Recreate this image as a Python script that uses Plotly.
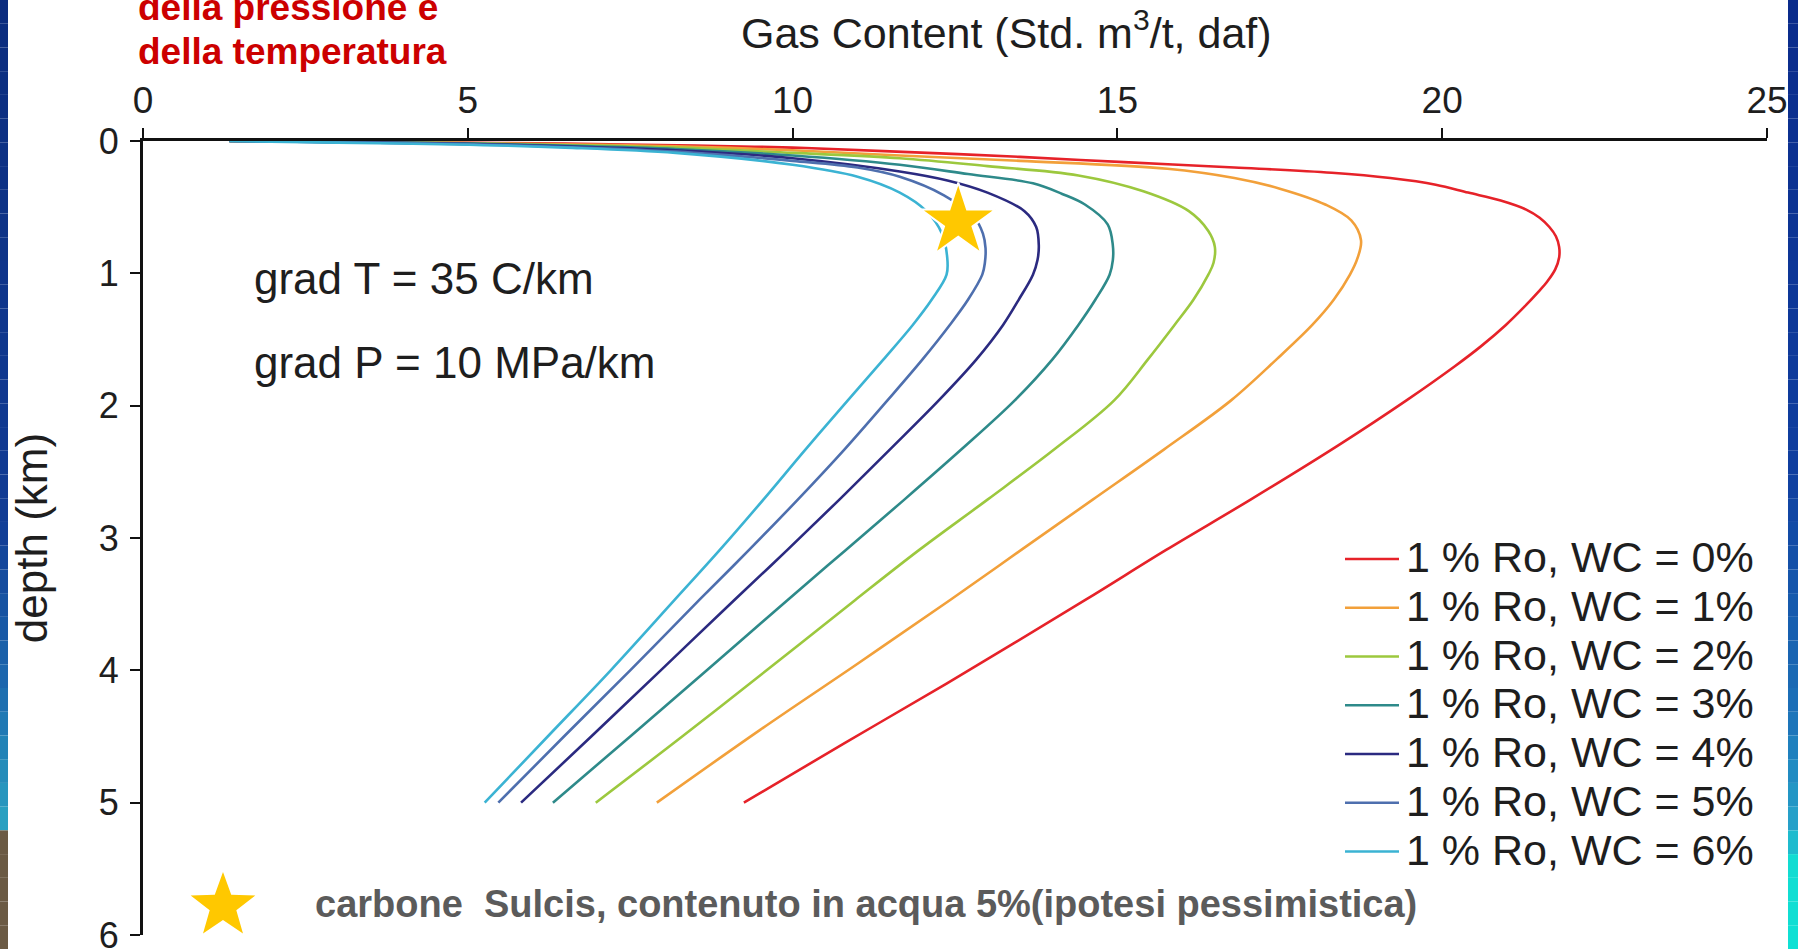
import math
import plotly.graph_objects as go

# ---------------- data ----------------
x_ticks = [0, 5, 10, 15, 20, 25]
y_ticks = [0, 1, 2, 3, 4, 5, 6]

depth_wc0 = [0, 0.005, 0.012, 0.02, 0.035, 0.05, 0.08, 0.12, 0.16, 0.20, 0.24, 0.28, 0.33, 0.39, 0.45, 0.52,
             0.58, 0.65, 0.72, 0.80, 0.88, 0.97, 1.06, 1.14, 1.25, 1.39, 1.55, 1.70, 1.96, 2.30, 2.71, 3.09,
             3.47, 4.10, 4.55, 5.0]
gas_wc0 = [1.33, 3.0, 4.8, 6.5, 8.5, 10.0, 11.6, 13.5, 15.1, 16.8, 18.3, 19.2, 19.9, 20.4, 20.9, 21.3,
           21.5, 21.65, 21.75, 21.8, 21.8, 21.74, 21.62, 21.48, 21.27, 20.98, 20.6, 20.2, 19.45, 18.4, 17.05, 15.75,
           14.5, 12.37, 10.8, 9.25]

depth_wc1 = [0, 0.006, 0.014, 0.025, 0.04, 0.07, 0.11, 0.15, 0.21, 0.28, 0.36, 0.48, 0.60, 0.75, 0.88, 1.01,
             1.20, 1.39, 1.65, 1.96, 2.33, 2.71, 3.09, 3.47, 3.95, 4.45, 5.0]
gas_wc1 = [1.33, 3.0, 4.8, 6.5, 8.2, 10.0, 11.65, 13.5, 15.77, 16.8, 17.5, 18.2, 18.6, 18.75, 18.7, 18.58,
           18.33, 18.0, 17.45, 16.75, 15.72, 14.62, 13.52, 12.42, 11.0, 9.5, 7.91]

depth_wc2 = [0, 0.007, 0.016, 0.03, 0.05, 0.09, 0.13, 0.19, 0.26, 0.38, 0.53, 0.68, 0.80, 0.92, 1.01, 1.20,
             1.39, 1.65, 1.96, 2.33, 2.71, 3.09, 3.47, 4.0, 4.5, 5.0]
gas_wc2 = [1.33, 3.0, 4.8, 6.5, 8.2, 10.0, 11.65, 13.0, 14.4, 15.4, 16.1, 16.4, 16.5, 16.48, 16.4, 16.17,
           15.88, 15.47, 14.95, 14.03, 13.0, 11.95, 10.96, 9.6, 8.3, 6.97]

depth_wc3 = [0, 0.008, 0.018, 0.035, 0.06, 0.11, 0.18, 0.25, 0.32, 0.40, 0.48, 0.63, 0.79, 0.90, 1.01, 1.20,
             1.39, 1.65, 1.96, 2.33, 2.71, 3.09, 3.47, 4.0, 4.5, 5.0]
gas_wc3 = [1.33, 3.0, 4.8, 6.5, 8.2, 10.0, 11.65, 12.7, 13.7, 14.15, 14.5, 14.85, 14.93, 14.93, 14.88, 14.66,
           14.4, 14.0, 13.42, 12.6, 11.72, 10.82, 9.92, 8.68, 7.5, 6.31]

depth_wc4 = [0, 0.009, 0.02, 0.04, 0.07, 0.13, 0.23, 0.30, 0.39, 0.53, 0.65, 0.79, 0.90, 1.01, 1.20, 1.39,
             1.65, 1.96, 2.33, 2.71, 3.09, 3.47, 4.0, 4.5, 5.0]
gas_wc4 = [1.33, 3.0, 4.8, 6.5, 8.2, 10.0, 11.65, 12.4, 13.0, 13.57, 13.75, 13.79, 13.77, 13.7, 13.48, 13.24,
           12.83, 12.25, 11.5, 10.72, 9.92, 9.1, 7.97, 6.9, 5.82]

depth_wc5 = [0, 0.01, 0.022, 0.045, 0.08, 0.15, 0.20, 0.27, 0.41, 0.58, 0.70, 0.81, 0.92, 1.01, 1.20, 1.39,
             1.65, 1.96, 2.33, 2.71, 3.09, 3.47, 4.0, 4.5, 5.0]
gas_wc5 = [1.33, 3.0, 4.8, 6.5, 8.2, 10.0, 11.0, 11.65, 12.33, 12.8, 12.93, 12.97, 12.96, 12.92, 12.7, 12.42,
           12.0, 11.46, 10.8, 10.08, 9.33, 8.56, 7.5, 6.48, 5.47]

depth_wc6 = [0, 0.012, 0.026, 0.05, 0.09, 0.18, 0.27, 0.39, 0.53, 0.70, 0.88, 1.01, 1.20, 1.39, 1.65, 1.96,
             2.33, 2.71, 3.09, 3.47, 4.0, 4.5, 5.0]
gas_wc6 = [1.33, 3.0, 4.8, 6.5, 8.2, 10.0, 11.0, 11.65, 12.06, 12.3, 12.38, 12.37, 12.14, 11.85, 11.4, 10.85,
           10.2, 9.55, 8.88, 8.18, 7.2, 6.23, 5.26]

series_names = ["1 % Ro, WC = 0%", "1 % Ro, WC = 1%", "1 % Ro, WC = 2%", "1 % Ro, WC = 3%",
                "1 % Ro, WC = 4%", "1 % Ro, WC = 5%", "1 % Ro, WC = 6%"]
series_colors = ["#E62229", "#F2A03A", "#9CC83E", "#2E8A8A", "#2B2A80", "#4E6FAE", "#3BB3D3"]
series_depths = [depth_wc0, depth_wc1, depth_wc2, depth_wc3, depth_wc4, depth_wc5, depth_wc6]
series_gas = [gas_wc0, gas_wc1, gas_wc2, gas_wc3, gas_wc4, gas_wc5, gas_wc6]

star_gas = [12.55]
star_depth = [0.61]

x_title = "Gas Content (Std. m<sup>3</sup>/t, daf)"
y_title = "depth (km)"
note_grad_t = "grad T = 35 C/km"
note_grad_p = "grad P = 10 MPa/km"
red_line1 = "della pressione e"
red_line2 = "della temperatura"
bottom_note = "carbone\u00a0 Sulcis, contenuto in acqua 5%(ipotesi pessimistica)"

# ---------------- layout geometry ----------------
W, H = 1798, 949
ML, MR, MT, MB = 143, 31, 141, 14
PW, PH = W - ML - MR, H - MT - MB


def px_x(px):
    return (px - ML) / PW


def px_y(py):
    return (H - MB - py) / PH


FONT = "Liberation Sans, Arial, Helvetica, sans-serif"
TXT = "#1e1e1e"
GOLD = "#FFC800"

fig = go.Figure()
for name, col, d, g in zip(series_names, series_colors, series_depths, series_gas):
    fig.add_trace(go.Scatter(x=g, y=d, mode="lines", name=name,
                             line=dict(color=col, width=2.6, shape="spline", smoothing=1.0),
                             showlegend=False))

fig.add_trace(go.Scatter(x=star_gas, y=star_depth, mode="markers", name="carbone Sulcis",
                         marker=dict(symbol="star", size=56, color=GOLD,
                                     line=dict(color="white", width=2)),
                         showlegend=False))

annotations = []
shapes = []

# manual legend (tight line spacing as in the original)
leg_y = [557 + i * 48.75 for i in range(len(series_names))]
for name, col, yy in zip(series_names, series_colors, leg_y):
    shapes.append(dict(type="line", xref="paper", yref="paper",
                       x0=px_x(1345), x1=px_x(1399), y0=px_y(yy + 2), y1=px_y(yy + 2),
                       line=dict(color=col, width=2.6)))
    annotations.append(dict(text=name, xref="paper", yref="paper", x=px_x(1404), y=px_y(yy),
                            xanchor="left", yanchor="middle", showarrow=False,
                            font=dict(family=FONT, size=43, color=TXT)))

# x-axis title
annotations.append(dict(text=x_title, xref="paper", yref="paper", x=px_x(1006), y=px_y(30),
                        xanchor="center", yanchor="middle", showarrow=False,
                        font=dict(family=FONT, size=43, color=TXT)))

# in-plot notes
annotations.append(dict(text=note_grad_t, xref="paper", yref="paper", x=px_x(252), y=px_y(278),
                        xanchor="left", yanchor="middle", showarrow=False,
                        font=dict(family=FONT, size=44, color=TXT)))
annotations.append(dict(text=note_grad_p, xref="paper", yref="paper", x=px_x(252), y=px_y(362),
                        xanchor="left", yanchor="middle", showarrow=False,
                        font=dict(family=FONT, size=44, color=TXT)))

# red heading (partly cut by the top edge, as in the original slide)
annotations.append(dict(text="<b>%s</b>" % red_line1, xref="paper", yref="paper", x=px_x(136), y=px_y(7),
                        xanchor="left", yanchor="middle", showarrow=False,
                        font=dict(family=FONT, size=37, color="#CC0000")))
annotations.append(dict(text="<b>%s</b>" % red_line2, xref="paper", yref="paper", x=px_x(136), y=px_y(51),
                        xanchor="left", yanchor="middle", showarrow=False,
                        font=dict(family=FONT, size=37, color="#CC0000")))

# bottom note text
annotations.append(dict(text="<b>%s</b>" % bottom_note, xref="paper", yref="paper", x=px_x(313), y=px_y(904),
                        xanchor="left", yanchor="middle", showarrow=False,
                        font=dict(family=FONT, size=38, color="#5B5B5B")))


# star key for the bottom note, drawn as a path shape (pixel geometry -> paper)
def star_path(cx, cy, r_out, r_in):
    pts = []
    for k in range(10):
        ang = -math.pi / 2 + k * math.pi / 5
        r = r_out if k % 2 == 0 else r_in
        pts.append((px_x(cx + r * math.cos(ang)), px_y(cy + r * math.sin(ang))))
    return "M " + " L ".join("%.5f,%.5f" % p for p in pts) + " Z"


shapes.append(dict(type="path", xref="paper", yref="paper", path=star_path(223, 906, 34, 14),
                   fillcolor=GOLD, line=dict(width=0), layer="above"))


# slide border strips
def lerp(c1, c2, t):
    a = [int(c1[i:i + 2], 16) for i in (1, 3, 5)]
    b = [int(c2[i:i + 2], 16) for i in (1, 3, 5)]
    return "#%02x%02x%02x" % tuple(int(round(a[k] + (b[k] - a[k]) * t)) for k in range(3))


def strip(x0, x1, stops, n=40):
    for i in range(n):
        f0, f1 = i / n, (i + 1) / n
        fm = (f0 + f1) / 2
        col = stops[-1][1]
        for (p0, c0), (p1, c1) in zip(stops[:-1], stops[1:]):
            if p0 <= fm <= p1:
                col = c0 if p1 == p0 else lerp(c0, c1, (fm - p0) / (p1 - p0))
                break
        shapes.append(dict(type="rect", xref="paper", yref="paper", layer="above",
                           x0=px_x(x0), x1=px_x(x1), y0=px_y(f1 * H), y1=px_y(f0 * H),
                           fillcolor=col, line=dict(width=0)))


left_stops = [(0, "#0B2C7D"), (0.55, "#113C95"), (0.72, "#1C68AE"), (0.87, "#2AA3C2"),
              (0.885, "#6B5A44"), (1.0, "#6B5A44")]
right_stops = [(0, "#0A2A8A"), (0.5, "#0F3FA0"), (0.75, "#1C70B8"), (0.88, "#27A8CC"),
               (0.9, "#12DCD2"), (1.0, "#10E0D4")]
strip(0, 8, left_stops)
strip(1788, W, right_stops)

fig.update_layout(
    width=W, height=H,
    margin=dict(l=ML, r=MR, t=MT, b=MB, autoexpand=False),
    paper_bgcolor="white", plot_bgcolor="white",
    showlegend=False,
    font=dict(family=FONT, color=TXT),
    xaxis=dict(range=[0, 25], side="top", tickvals=x_ticks, ticktext=[str(v) for v in x_ticks],
               ticks="outside", ticklen=10, tickwidth=2, tickcolor="#111",
               showline=True, linecolor="#111", linewidth=3, mirror=False,
               showgrid=False, zeroline=False, ticklabeloverflow="allow", automargin=False,
               tickfont=dict(family=FONT, size=37, color=TXT)),
    yaxis=dict(range=[6, 0], tickvals=y_ticks, ticktext=[str(v) for v in y_ticks],
               ticks="outside", ticklen=10, tickwidth=2, tickcolor="#111",
               showline=True, linecolor="#111", linewidth=3, mirror=False,
               showgrid=False, zeroline=False, ticklabeloverflow="allow", ticklabelstandoff=4,
               automargin=False,
               tickfont=dict(family=FONT, size=36, color=TXT),
               title=dict(text=y_title, font=dict(family=FONT, size=44, color=TXT), standoff=38)),
    annotations=annotations,
    shapes=shapes,
)

fig.write_html(
    "out.html",
    config={"displayModeBar": False},
    post_script=("document.documentElement.style.overflow='hidden';"
                 "document.body.style.margin='0';document.body.style.overflow='hidden';"),
)
